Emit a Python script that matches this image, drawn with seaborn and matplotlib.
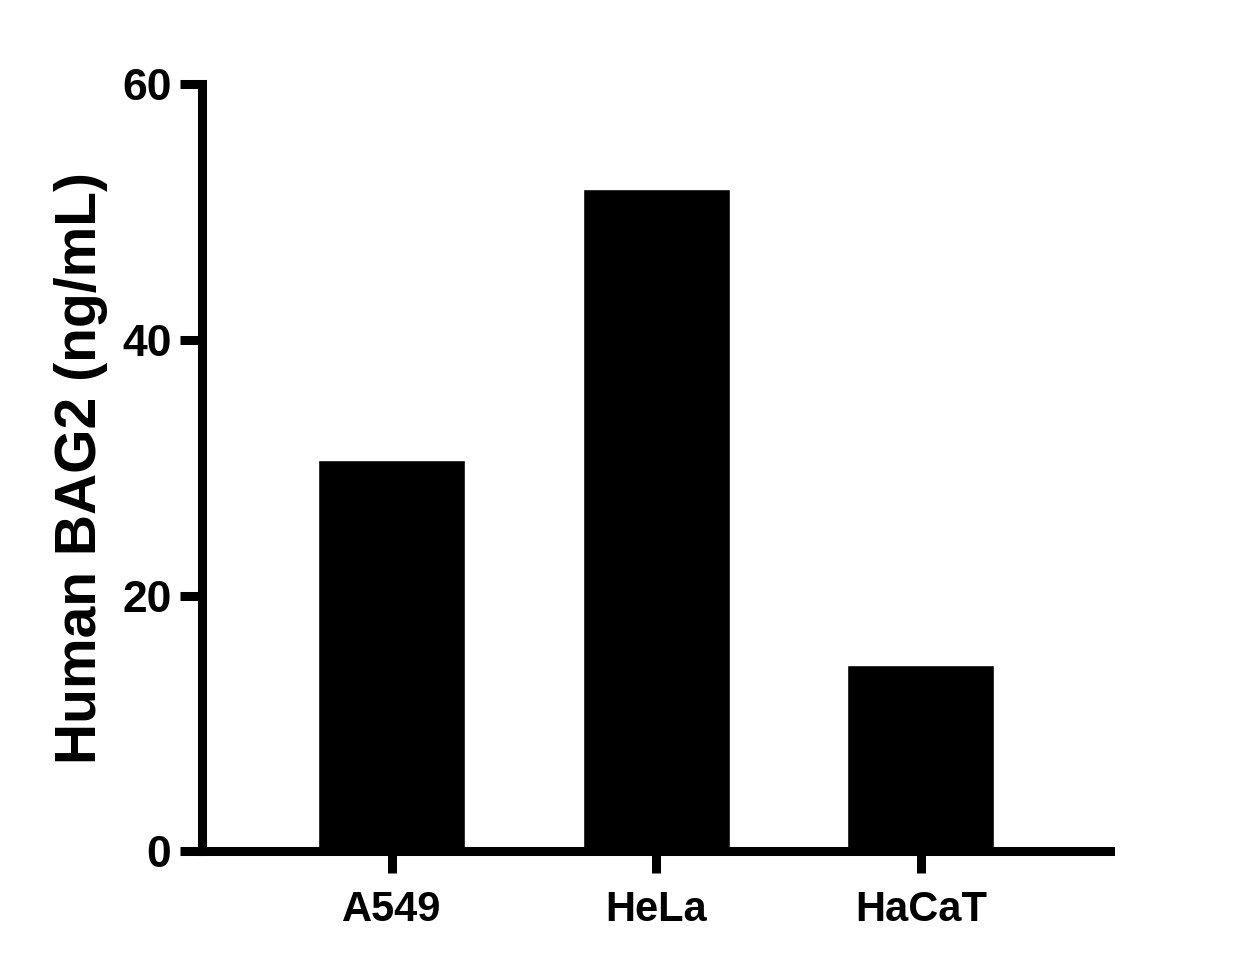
import matplotlib
matplotlib.use('Agg')
import matplotlib.pyplot as plt
import seaborn as sns
import pandas as pd

cell_lines = ['A549', 'HeLa', 'HaCaT']
bag2_conc = [30.6, 51.8, 14.6]

df = pd.DataFrame({'cell_line': cell_lines, 'conc': bag2_conc})

sns.set_style('ticks', {'axes.edgecolor': 'black', 'text.color': 'black',
                        'xtick.color': 'black', 'ytick.color': 'black',
                        'axes.labelcolor': 'black'})
plt.rcParams['font.family'] = ['Liberation Sans', 'DejaVu Sans']
plt.rcParams['font.weight'] = 'bold'

fig = plt.figure(figsize=(12.5, 9.72), dpi=100)
ax = fig.add_axes([0.1616, 0.124, 0.888 - 0.1616, 0.9136 - 0.124])

sns.barplot(data=df, x='cell_line', y='conc', color='black', width=0.555,
            saturation=1, errorbar=None, ax=ax)

ax.set_xlim(-0.717, 2.715)
ax.set_ylim(0, 60)
ax.set_yticks([0, 20, 40, 60])
ax.set_xlabel('')
ax.set_ylabel('Human BAG2 (ng/mL)', fontsize=41, fontweight='bold', labelpad=10)

for s in ['top', 'right']:
    ax.spines[s].set_visible(False)
for s in ['left', 'bottom']:
    ax.spines[s].set_linewidth(6.5)
    ax.spines[s].set_capstyle('projecting')

ax.tick_params(axis='both', width=6.5, length=16, labelsize=30, color='black',
               labelcolor='black')
ax.tick_params(axis='x', pad=12)
ax.tick_params(axis='y', pad=6, labelsize=32)
for lbl in ax.get_xticklabels() + ax.get_yticklabels():
    lbl.set_fontweight('bold')

fig.savefig('out.png', dpi=100)
